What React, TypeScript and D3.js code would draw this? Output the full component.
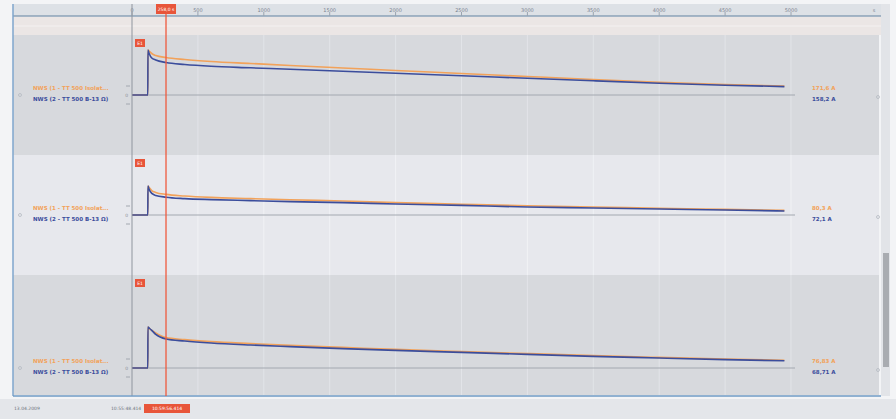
import * as d3 from "d3";

// time axis (s)
const ticks = [0, 500, 1000, 1500, 2000, 2500, 3000, 3500, 4000, 4500, 5000];
const times = [0, 120, 121, 130, 150, 180, 258, 400, 600, 900, 1200, 1600, 2000, 2500, 3000, 3500, 4000, 4500, 4950];

// panel 1 (A)
const p1Orange = [0, 0, 450, 440, 415, 395, 375, 355, 335, 315, 295, 270, 245, 215, 185, 155, 128, 105, 90];
const p1Blue = [0, 0, 450, 415, 370, 350, 325, 305, 287, 272, 257, 237, 217, 192, 167, 142, 118, 98, 84];
// panel 2
const p2Orange = [0, 0, 145, 138, 122, 113, 103, 95, 88, 82, 76, 70, 62, 54, 46, 40, 34, 28, 23];
const p2Blue = [0, 0, 145, 128, 108, 98, 89, 82, 77, 72, 67, 62, 55, 48, 40, 35, 30, 25, 20];
// panel 3
const p3Orange = [0, 0, 205, 198, 188, 175, 152, 142, 132, 122, 113, 103, 93, 82, 72, 62, 53, 45, 39];
const p3Blue = [0, 0, 205, 200, 188, 168, 145, 135, 125, 115, 107, 97, 88, 78, 68, 58, 50, 42, 36];

const seriesNames = ["NWS (1 - TT 500 Isolat...", "NWS (2 - TT 500 B-13 Ω)"];
const p1Values = ["171,6 A", "158,2 A"];
const p2Values = ["80,3 A", "72,1 A"];
const p3Values = ["76,83 A", "68,71 A"];
const cursorTime = 258;
const cursorLabel = "258,0 s";
const dateLabel = "13.04.2009";
const startLabel = "10:55:48.414";
const cursorClock = "10:59:56.414";

const ORANGE = "#f2a25a";
const BLUE = "#3b4d9c";
const FONT = "DejaVu Sans, sans-serif";

const panels = [
  { top: 35, bottom: 155, domain: [-600, 600], fill: "#d7d9dd", grid: "#e2e4e8", orange: p1Orange, blue: p1Blue, values: p1Values },
  { top: 155, bottom: 275, domain: [-300, 300], fill: "#e7e8ed", grid: "#f1f2f5", orange: p2Orange, blue: p2Blue, values: p2Values },
  { top: 275, bottom: 395, domain: [-135, 465], fill: "#d7d9dd", grid: "#e2e4e8", orange: p3Orange, blue: p3Blue, values: p3Values },
];

export default function App() {
  const x = d3.scaleLinear().domain([0, 5000]).range([132, 791]);
  const cx = x(cursorTime);

  return (
    <svg width={896} height={419} style={{ position: "absolute", left: 0, top: 0, fontFamily: FONT }}>
      <rect width={896} height={419} fill="#f3f4f6" />
      {/* top axis strip */}
      <rect x={13} y={4} width={868} height={12} fill="#dde1e6" />
      <line x1={13} x2={881} y1={16} y2={16} stroke="#8aa0b6" strokeWidth={1.5} />
      <rect x={13} y={17} width={868} height={18} fill="#ebe6e5" />
      <line x1={13} x2={881} y1={26} y2={26} stroke="#f4f1f1" strokeWidth={1} />
      {ticks.map((t) => (
        <g key={t}>
          <line x1={x(t)} x2={x(t)} y1={12} y2={16} stroke="#9aa4b0" />
          <text x={x(t)} y={12} fontSize={5} fill="#7b8390" textAnchor="middle">{t}</text>
        </g>
      ))}
      <text x={874} y={12} fontSize={5} fill="#7b8390" textAnchor="middle">s</text>

      {panels.map((p, i) => {
        const y = d3.scaleLinear().domain(p.domain).range([p.bottom, p.top]);
        const line = d3
          .line<number>()
          .x((_, j) => x(times[j]))
          .y((d) => y(d))
          .curve(d3.curveMonotoneX);
        const y0 = y(0);
        return (
          <g key={i}>
            <rect x={13} y={p.top} width={866} height={p.bottom - p.top} fill={p.fill} />
            {ticks.slice(1).map((t) => (
              <line key={t} x1={x(t)} x2={x(t)} y1={p.top} y2={p.bottom} stroke={p.grid} strokeWidth={1} />
            ))}
            <line x1={132} x2={795} y1={y0} y2={y0} stroke="#a3a8b0" strokeWidth={1} />
            <line x1={126} x2={130} y1={y0 - 9} y2={y0 - 9} stroke="#a3a8b0" />
            <line x1={126} x2={130} y1={y0 + 9} y2={y0 + 9} stroke="#a3a8b0" />
            <text x={128} y={y0 + 2} fontSize={4.5} fill="#8b919a" textAnchor="end">0</text>
            <circle cx={20} cy={y0} r={1.5} fill="none" stroke="#b5bac2" strokeWidth={0.8} />
            <circle cx={878} cy={y0 + 2} r={1.5} fill="none" stroke="#b5bac2" strokeWidth={0.8} />
            <path d={line(p.orange) ?? ""} fill="none" stroke={ORANGE} strokeWidth={1.6} />
            <path d={line(p.blue) ?? ""} fill="none" stroke={BLUE} strokeWidth={1.6} />
            <rect x={135} y={p.top + 4} width={10} height={8} fill="#e8553a" />
            <text x={140} y={p.top + 10} fontSize={4.5} fill="#fff" textAnchor="middle">E1</text>
            <text x={33} y={y0 - 5} fontSize={5.5} fontWeight="bold" fill={ORANGE}>{seriesNames[0]}</text>
            <text x={33} y={y0 + 6} fontSize={5.5} fontWeight="bold" fill={BLUE}>{seriesNames[1]}</text>
            <text x={812} y={y0 - 5} fontSize={5.5} fontWeight="bold" fill={ORANGE}>{p.values[0]}</text>
            <text x={812} y={y0 + 6} fontSize={5.5} fontWeight="bold" fill={BLUE}>{p.values[1]}</text>
          </g>
        );
      })}

      {/* frame lines */}
      <line x1={13} x2={13} y1={4} y2={396} stroke="#7fa6cc" strokeWidth={1.5} />
      <line x1={132} x2={132} y1={4} y2={396} stroke="#8f959e" strokeWidth={1} />
      <line x1={13} x2={881} y1={396} y2={396} stroke="#6f9bc4" strokeWidth={1.5} />
      <text x={443} y={401} fontSize={4} fill="#6d737c" textAnchor="middle">• • • • • • •</text>

      {/* scrollbar */}
      <rect x={881} y={4} width={9} height={392} fill="#e2e4e8" />
      <rect x={883} y={253} width={6} height={114} fill="#a9acb1" />

      {/* cursor */}
      <line x1={cx} x2={cx} y1={4} y2={396} stroke="#ef5a3e" strokeWidth={1.3} />
      <rect x={cx - 10} y={4} width={20} height={10} fill="#e8553a" />
      <text x={cx} y={11} fontSize={4.5} fill="#fff" textAnchor="middle">{cursorLabel}</text>

      {/* status bar */}
      <rect x={0} y={399} width={896} height={20} fill="#e4e6ea" />
      <text x={14} y={410} fontSize={4.5} fill="#6d737c">{dateLabel}</text>
      <text x={111} y={410} fontSize={4.5} fill="#6d737c">{startLabel}</text>
      <rect x={144} y={404} width={46} height={9} fill="#e8553a" />
      <text x={167} y={410} fontSize={4.5} fill="#fff" textAnchor="middle">{cursorClock}</text>
    </svg>
  );
}
